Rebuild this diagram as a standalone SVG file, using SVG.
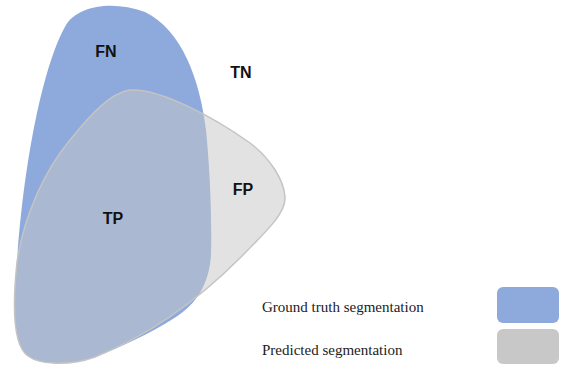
<svg xmlns="http://www.w3.org/2000/svg" width="565" height="367" viewBox="0 0 565 367">
<style>
.lbl{font-family:"Liberation Sans",Arial,sans-serif;font-weight:bold;font-size:16px;fill:#111;text-anchor:middle}
.leg{font-family:"Liberation Serif","Times New Roman",serif;font-size:15px;fill:#222}
</style>
<rect width="565" height="367" fill="#fff"/>
<g id="ground-truth">
<path d="M17,264 C22,180 40,70 66,25 C78,6 112,0 145,12 C182,30 200,80 206,130 C210,170 212,220 211,255 C209,285 196,304 176,317 C148,335 120,347 95,357 C70,366 40,365 28,356 C12,345 13,300 17,264 Z" fill="#8eaadc"/>
</g>
<g id="predicted">
<path d="M130,90 C160,88 215,118 250,143 C270,158 284,180 285,197 C286,212 270,228 240,258 C200,298 150,335 95,357 C70,366 40,365 28,356 C12,345 13,300 17,262 C24,215 45,170 70,140 C90,115 110,93 130,90 Z" fill="#c6c6c6" fill-opacity="0.5" stroke="#c4c4c4" stroke-width="1.5"/>
</g>
<g id="labels">
<text class="lbl" x="106" y="57">FN</text>
<text class="lbl" x="241" y="78">TN</text>
<text class="lbl" x="113" y="224">TP</text>
<text class="lbl" x="243" y="195">FP</text>
</g>
<g id="legend">
<text class="leg" x="262" y="312">Ground truth segmentation</text>
<rect x="497" y="287" width="62" height="36" rx="6" fill="#8eaadc"/>
<text class="leg" x="262" y="355">Predicted segmentation</text>
<rect x="497" y="329" width="62" height="35" rx="6" fill="#c8c8c8"/>
</g>
</svg>
